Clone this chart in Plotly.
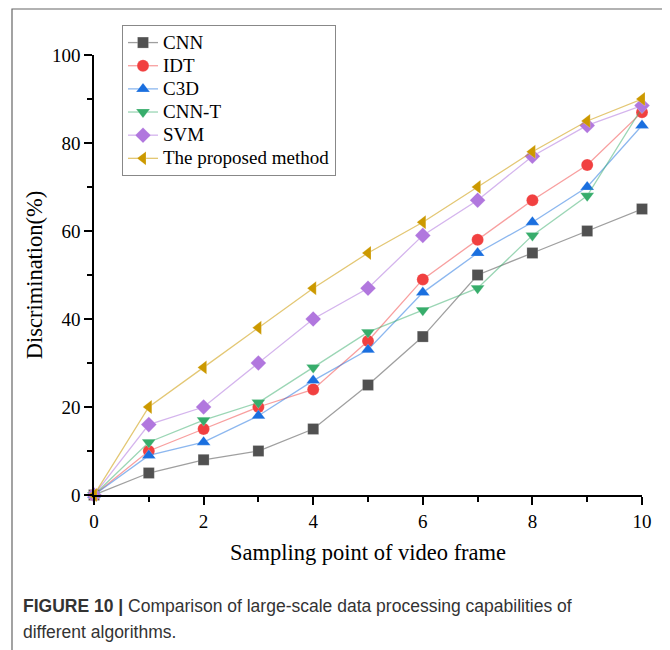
import plotly.graph_objects as go

x_vals = [0, 1, 2, 3, 4, 5, 6, 7, 8, 9, 10]
cnn = [0, 5, 8, 10, 15, 25, 36, 50, 55, 60, 65]
idt = [0, 10, 15, 20, 24, 35, 49, 58, 67, 75, 87]
c3d = [0, 9, 12, 18, 26, 33, 46, 55, 62, 70, 84]
cnn_t = [0, 12, 17, 21, 29, 37, 42, 47, 59, 68, 88]
svm = [0, 16, 20, 30, 40, 47, 59, 67, 77, 84, 88.5]
proposed = [0, 20, 29, 38, 47, 55, 62, 70, 78, 85, 90]

series = [
    ("CNN", cnn, "#515151", "rgba(81,81,81,0.55)", "square", 11),
    ("IDT", idt, "#F14040", "rgba(241,64,64,0.5)", "circle", 12),
    ("C3D", c3d, "#1A6FDF", "rgba(26,111,223,0.5)", "triangle-up", 12),
    ("CNN-T", cnn_t, "#37AD6B", "rgba(55,173,107,0.5)", "triangle-down", 12),
    ("SVM", svm, "#B177DE", "rgba(177,119,222,0.55)", "diamond", 12),
    ("The proposed method", proposed, "#CC9900", "rgba(204,153,0,0.55)", "triangle-left", 12),
]

fig = go.Figure()
for name, ys, mcol, lcol, sym, msize in series:
    fig.add_trace(go.Scatter(
        x=x_vals, y=ys, name='<span style="font-size:19px">' + name + '</span>',
        mode="lines+markers",
        line=dict(color=lcol, width=1.3),
        marker=dict(symbol=sym, color=mcol, size=msize,
                    line=dict(color="rgba(255,255,255,0.4)", width=0.5)),
        cliponaxis=False,
    ))

serif = "Liberation Serif, Times New Roman, serif"

# page has an 8px body margin; work in page pixels and convert
OFF = 8
W, H = 662, 642
L, R, T, B = 86, 28, 47, 155
pw, ph = W - L - R, H - T - B

def px_x(p):
    return (p - OFF - L) / pw

def px_y(p):
    return (H - B - (p - OFF)) / ph

fig.update_layout(
    width=W, height=H,
    margin=dict(l=L, r=R, t=T, b=B),
    paper_bgcolor="white", plot_bgcolor="white",
    showlegend=True,
    legend=dict(
        x=px_x(122), y=px_y(25), xanchor="left", yanchor="top",
        bgcolor="white", bordercolor="#888888", borderwidth=1,
        font=dict(family=serif, size=15.5, color="black"),
        tracegroupgap=0, itemwidth=30,
    ),
    xaxis=dict(
        range=[0, 10], dtick=2, tick0=0,
        showgrid=False, zeroline=False,
        showline=True, linecolor="black", linewidth=1.5,
        ticks="outside", ticklen=8, tickwidth=1.5, tickcolor="black",
        minor=dict(ticks="outside", ticklen=5, dtick=1, tickwidth=1.5, tickcolor="black", showgrid=False),
        tickfont=dict(family=serif, size=19, color="black"),
        title=dict(text="Sampling point of video frame", standoff=14,
                   font=dict(family=serif, size=22.5, color="black")),
    ),
    yaxis=dict(
        range=[0, 100], dtick=20, tick0=0,
        showgrid=False, zeroline=False,
        showline=True, linecolor="black", linewidth=1.5,
        ticks="outside", ticklen=8, tickwidth=1.5, tickcolor="black",
        minor=dict(ticks="outside", ticklen=5, dtick=10, tickwidth=1.5, tickcolor="black", showgrid=False),
        tickfont=dict(family=serif, size=19, color="black"),
        title=dict(text="Discrimination(%)", standoff=3,
                   font=dict(family=serif, size=22.5, color="black")),
    ),
)

# outer frame
fig.add_shape(type="rect", xref="paper", yref="paper",
              x0=px_x(12), x1=px_x(663), y0=px_y(665), y1=px_y(9),
              line=dict(color="#666666", width=1.2), fillcolor="rgba(0,0,0,0)",
              layer="below")

sans = "Liberation Sans, Arial, sans-serif"
fig.add_annotation(xref="paper", yref="paper", x=px_x(21), y=px_y(606),
                   xanchor="left", yanchor="middle", showarrow=False, align="left",
                   text="<b>FIGURE 10 |</b> Comparison of large-scale data processing capabilities of",
                   font=dict(family=sans, size=17.5, color="#333333"))
fig.add_annotation(xref="paper", yref="paper", x=px_x(21), y=px_y(632),
                   xanchor="left", yanchor="middle", showarrow=False, align="left",
                   text="different algorithms.",
                   font=dict(family=sans, size=17.5, color="#333333"))

fig.write_html("out.html")
